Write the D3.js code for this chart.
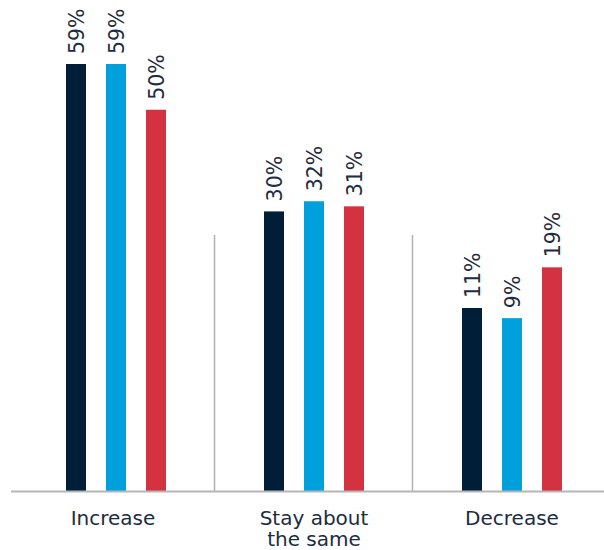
<!DOCTYPE html>
<html>
<head>
<meta charset="utf-8">
<script src="https://cdn.jsdelivr.net/npm/d3@7"></script>
<style>
  html, body { margin: 0; padding: 0; background: #fff; }
  svg { display: block; }
</style>
</head>
<body>
<svg id="chart" width="604" height="550"></svg>
<script>
const categories = [["Increase"], ["Stay about", "the same"], ["Decrease"]];
const series = ["s1", "s2", "s3"];
const colors = ["#001e38", "#00a0dd", "#d33341"];
const s1Values = [59, 30, 11];
const s2Values = [59, 32, 9];
const s3Values = [50, 31, 19];
const valueLabels = [["59%", "30%", "11%"], ["59%", "32%", "9%"], ["50%", "31%", "19%"]];

const allValues = [s1Values, s2Values, s3Values];
const svg = d3.select("#chart");
const baseY = 491;
const textColor = "#1b2c45";
const font = "'DejaVu Sans', sans-serif";

const x0 = d3.scaleBand().domain(d3.range(categories.length)).range([17, 611]).padding(0);
const x1 = d3.scaleBand().domain(series).range([-60, 60]).paddingInner(0.5).paddingOuter(0.25);
const y = d3.scaleLinear().domain([-25, 59]).range([baseY, 64]);

// dividers
svg.selectAll("line.div").data([1, 2]).enter().append("line")
  .attr("x1", d => x0(d) - 0.5).attr("x2", d => x0(d) - 0.5)
  .attr("y1", 235).attr("y2", baseY)
  .attr("stroke", "#b0b0b0").attr("stroke-width", 1.5);

const data = [];
categories.forEach((c, i) => series.forEach((s, j) => data.push({ i, j, s, v: allValues[j][i], label: valueLabels[j][i] })));

const cx = d => x0(d.i) + x0.bandwidth() / 2 + x1(d.s);

svg.selectAll("rect.bar").data(data).enter().append("rect")
  .attr("x", d => cx(d))
  .attr("width", x1.bandwidth())
  .attr("y", d => y(d.v))
  .attr("height", d => baseY - y(d.v))
  .attr("fill", d => colors[d.j]);

svg.selectAll("text.val").data(data).enter().append("text")
  .attr("transform", d => `translate(${cx(d) + x1.bandwidth() / 2 + 7.5},${y(d.v) - 10}) rotate(-90)`)
  .attr("text-anchor", "start")
  .attr("font-family", font)
  .attr("font-size", 20.5)
  .attr("fill", textColor)
  .text(d => d.label);

// baseline axis
svg.append("line")
  .attr("x1", 11).attr("x2", 604)
  .attr("y1", baseY + 0.5).attr("y2", baseY + 0.5)
  .attr("stroke", "#b5b5b5").attr("stroke-width", 2);

// category labels
const cat = svg.selectAll("text.cat").data(categories).enter().append("text")
  .attr("text-anchor", "middle")
  .attr("font-family", font)
  .attr("font-size", 20)
  .attr("fill", textColor)
  .attr("x", (d, i) => x0(i) + x0.bandwidth() / 2 - (i === 0 ? 3 : 0))
  .attr("y", 525);
cat.selectAll("tspan").data(d => d).enter().append("tspan")
  .attr("x", function () { return d3.select(this.parentNode).attr("x"); })
  .attr("dy", (d, k) => k === 0 ? 0 : 20.5)
  .text(d => d);
</script>
</body>
</html>
